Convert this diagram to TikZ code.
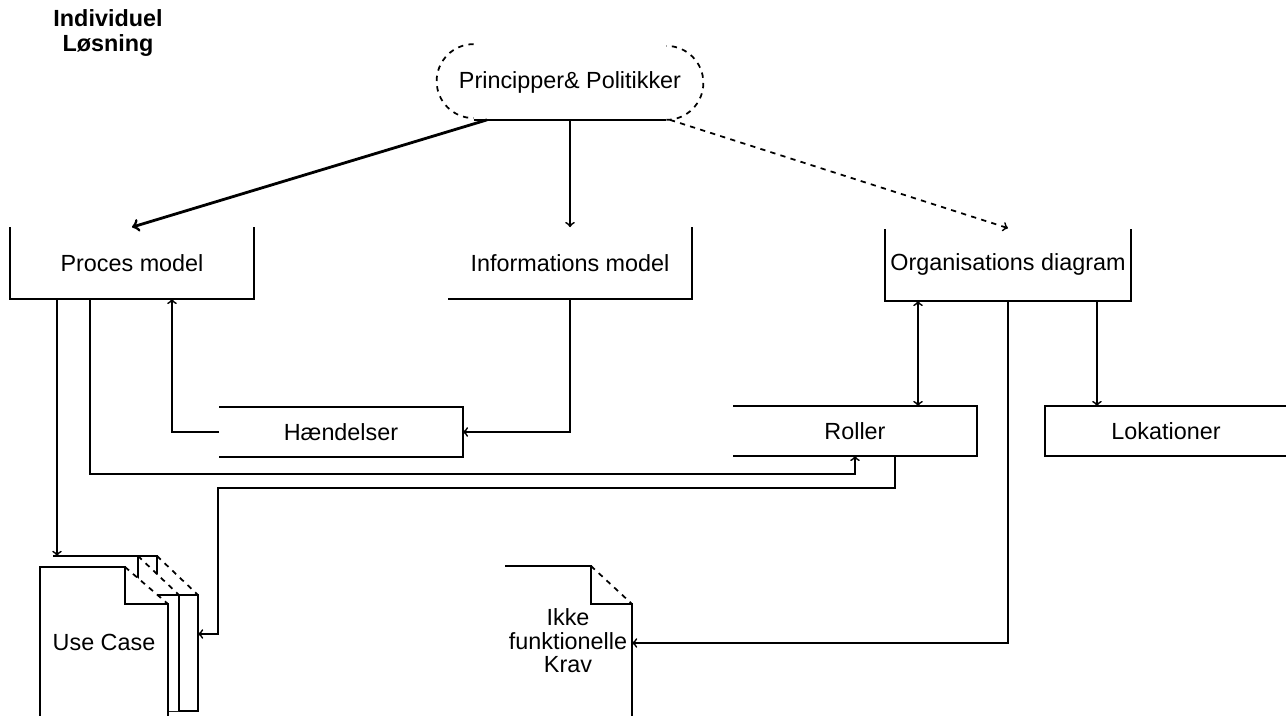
\documentclass[tikz,border=0pt]{standalone}
\usepackage{fontspec}
\setmainfont{Liberation Sans}
\usepackage{tikz}

\begin{document}
\begin{tikzpicture}[x=0.02cm,y=-0.02cm,line width=1pt,
  lbl/.style={inner sep=0pt,font=\fontsize{13.3}{13.3}\selectfont},
  box/.style={lbl,minimum width=4.84cm,minimum height=1.4cm},
  lowbox/.style={lbl,minimum width=4.84cm,minimum height=0.96cm},
  page/.style={fill=white,draw=none}]
  \useasboundingbox (0,0) rectangle (1286,716);

  % heading
  \node[lbl,font=\fontsize{13.3}{14.5}\selectfont\bfseries,align=center] (title) at (108,33) {Individuel\\Løsning};

  % principles (stadium, dashed ends, solid bottom)
  \node[lbl,minimum width=5.3cm,minimum height=1.48cm] (pp) at (570,82) {Principper\& Politikker};
  \draw[dashed] ([xshift=0.74cm]pp.north west) arc[start angle=90,end angle=270,radius=0.74cm];
  \draw[dashed] ([xshift=-0.74cm]pp.south east) arc[start angle=-90,end angle=90,radius=0.74cm];
  \draw ([xshift=0.74cm]pp.south west) -- ([xshift=-0.74cm]pp.south east);

  % models
  \node[box] (proc) at (132,263) {Proces model};
  \node[box] (info) at (570,263) {Informations model};
  \node[box,minimum width=4.88cm] (org) at (1008,264) {Organisations diagram};
  \draw (proc.north west) -- (proc.south west) -- (proc.south east) -- (proc.north east);
  \draw (info.south west) -- (info.south east) -- (info.north east);
  \draw ([yshift=-0.02cm]org.north west) -- ([yshift=-0.02cm]org.south west) -- ([yshift=-0.02cm]org.south east) -- ([yshift=-0.02cm]org.north east);

  % lower row
  \node[lowbox] (haen) at (341,432) {Hændelser};
  \node[lowbox] (roller) at (855,431) {Roller};
  \node[lowbox,minimum width=4.8cm] (lok) at (1166,431) {Lokationer};
  \draw (haen.north west) -- (haen.north east) -- (haen.south east) -- (haen.south west);
  \draw (roller.north west) -- (roller.north east) -- (roller.south east) -- (roller.south west);
  \draw (lok.north east) -- (lok.north west) -- (lok.south west) -- (lok.south east);

  % use case stack
  \fill[page] (53,711) -- (53,556) -- (157,556) -- (198,595) -- (198,711) -- cycle;
  \draw (53,556) -- (157,556) -- (157,595) -- (198,595) -- (198,711) -- (168,711);
  \draw[dashed] (157,556) -- (198,595);
  \fill[page] (53,711) -- (53,556) -- (138,556) -- (179,595) -- (179,711) -- cycle;
  \draw (53,556) -- (138,556) -- (138,595) -- (179,595) -- (179,711);
  \draw[dashed] (138,556) -- (179,595);
  \fill[page] (40,730) -- (40,567) -- (125,567) -- (168,604) -- (168,730) -- cycle;
  \draw (40,730) -- (40,567) -- (125,567) -- (125,604) -- (168,604) -- (168,730);
  \draw[dashed] (125,567) -- (168,604);
  \node[lbl] (uc) at (104,642) {Use Case};
  \coordinate (ucin) at (57,556);
  \coordinate (ucside) at (198,634);

  % non-functional requirements
  \draw (505,566) -- (591,566) -- (591,604) -- (632,604) -- (632,730);
  \draw[dashed] (591,566) -- (632,604);
  \node[lbl,align=center,font=\fontsize{13.3}{13.4}\selectfont] (nfk) at (568,641) {Ikke\\funktionelle\\Krav};
  \coordinate (nfkside) at (632,643);

  % connectors
  \draw[->,line width=1.6pt] ([xshift=-1.66cm]pp.south) -- (proc.north);
  \draw[->] (pp.south) -- (info.north);
  \draw[->,dashed] ([xshift=2cm]pp.south) -- (org.north);
  \draw[->] (info.south) |- (haen.east);
  \draw[->] (haen.west) -| ([xshift=0.8cm]proc.south);
  \draw[->] ([xshift=-0.84cm]proc.south) -- ++(0,175) -| (roller.south);
  \draw[->] ([xshift=-1.5cm]proc.south) -- (ucin);
  \draw[->] ([xshift=0.8cm]roller.south) -- ++(0,32) -| ([xshift=0.4cm]ucside) -- (ucside);
  \draw[<->] ([xshift=-1.8cm,yshift=-0.02cm]org.south) -- ([xshift=-1.8cm]org.south |- roller.north);
  \draw[->] ([xshift=1.78cm,yshift=-0.02cm]org.south) -- ([xshift=1.78cm]org.south |- lok.north);
  \draw[->] ([yshift=-0.02cm]org.south) |- (nfkside);
\end{tikzpicture}
\end{document}
